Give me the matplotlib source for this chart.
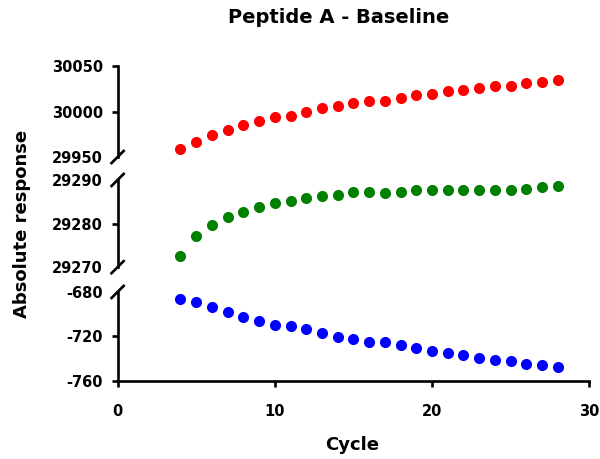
import numpy as np
import matplotlib.pyplot as plt

# cycles measured
cycles = np.arange(4, 29)

# absolute response per channel
resp_red = [29959, 29967, 29974, 29979.6, 29985, 29990, 29994, 29995.4, 29999,
            30003.5, 30006, 30009.6, 30012, 30012, 30014.7, 30018, 30019.3,
            30022.6, 30024, 30026, 30028, 30028.5, 30031, 30033, 30035]
resp_green = [29272.5, 29277.2, 29279.7, 29281.4, 29282.6, 29283.75, 29284.7,
              29285.2, 29285.8, 29286.25, 29286.5, 29287.2, 29287.3, 29286.9,
              29287.3, 29287.6, 29287.7, 29287.8, 29287.8, 29287.8, 29287.8,
              29287.8, 29288.0, 29288.3, 29288.6]
resp_blue = [-686, -689, -693.8, -698.3, -702.5, -705.7, -709.3, -710.2, -713.5,
             -717.3, -720.6, -722.7, -725.1, -725.1, -727.8, -730.2, -732.9,
             -734.7, -737, -739.1, -741.5, -742.4, -744.5, -746, -747.7]

# axis segments: (limits, ticks, ticks without a tick mark)
seg_top = ((29950, 30050), [29950, 30000, 30050], [29950])
seg_mid = ((29270, 29290), [29270, 29280, 29290], [29270, 29290])
seg_bot = ((-760, -680), [-760, -720, -680], [-680])

x_ticks = [0, 10, 20, 30]

FONT = "DejaVu Sans"
LW = 1.9


def slash(fig, ax, yfrac):
    """Draw a break mark across the left spine at a fraction of the axes height."""
    trans = ax.transAxes
    # size of the mark in axes units (about 7 px each way)
    bbox = ax.get_position()
    dx = 7 / (fig.get_figwidth() * fig.dpi * bbox.width)
    dy = 7 / (fig.get_figheight() * fig.dpi * bbox.height)
    ax.plot([-dx, dx], [yfrac - dy, yfrac + dy], color="black", lw=LW,
            transform=trans, clip_on=False, solid_capstyle="butt")


def setup_axis(ax, seg, bottom=False):
    lims, ticks, hidden = seg
    ax.set_ylim(*lims)
    ax.set_xlim(0, 30)
    ax.set_yticks(ticks)
    ax.set_yticklabels([str(t) for t in ticks], fontsize=10.5,
                       fontweight="bold", family=FONT)
    for t, tk in zip(ticks, ax.yaxis.get_major_ticks()):
        if t in hidden:
            tk.tick1line.set_visible(False)
    for s in ["top", "right"]:
        ax.spines[s].set_visible(False)
    ax.spines["left"].set_linewidth(LW)
    ax.tick_params(axis="y", direction="out", length=4.5, width=LW, pad=6)
    if bottom:
        ax.spines["bottom"].set_linewidth(LW)
        ax.set_xticks(x_ticks)
        ax.set_xticklabels([str(t) for t in x_ticks], fontsize=10.5,
                           fontweight="bold", family=FONT)
        ax.tick_params(axis="x", direction="out", length=4.5, width=LW, pad=12)
    else:
        ax.spines["bottom"].set_visible(False)
        ax.set_xticks([])


fig = plt.figure(figsize=(6.0, 4.59), dpi=100)
left, width = 0.196, 0.786
ax_top = fig.add_axes([left, 0.658, width, 0.198])
ax_mid = fig.add_axes([left, 0.418, width, 0.190])
ax_bot = fig.add_axes([left, 0.170, width, 0.194])

setup_axis(ax_top, seg_top)
setup_axis(ax_mid, seg_mid)
setup_axis(ax_bot, seg_bot, bottom=True)

ax_top.plot(cycles, resp_red, "o", color="#FF0000", ms=8, mec="none", clip_on=False)
ax_mid.plot(cycles, resp_green, "o", color="#008000", ms=8, mec="none", clip_on=False)
ax_bot.plot(cycles, resp_blue, "o", color="#0000FF", ms=8, mec="none", clip_on=False)

# break marks
slash(fig, ax_top, 0.0)
slash(fig, ax_mid, 1.0)
slash(fig, ax_mid, 0.0)
slash(fig, ax_bot, 1.0)

fig.text(0.564, 0.961, "Peptide A - Baseline", ha="center", va="center",
         fontsize=14, fontweight="bold", family=FONT)
fig.text(0.587, 0.031, "Cycle", ha="center", va="center",
         fontsize=13, fontweight="bold", family=FONT)
fig.text(0.037, 0.512, "Absolute response", ha="center", va="center",
         rotation=90, fontsize=13, fontweight="bold", family=FONT)

fig.savefig("out.png", dpi=100)
